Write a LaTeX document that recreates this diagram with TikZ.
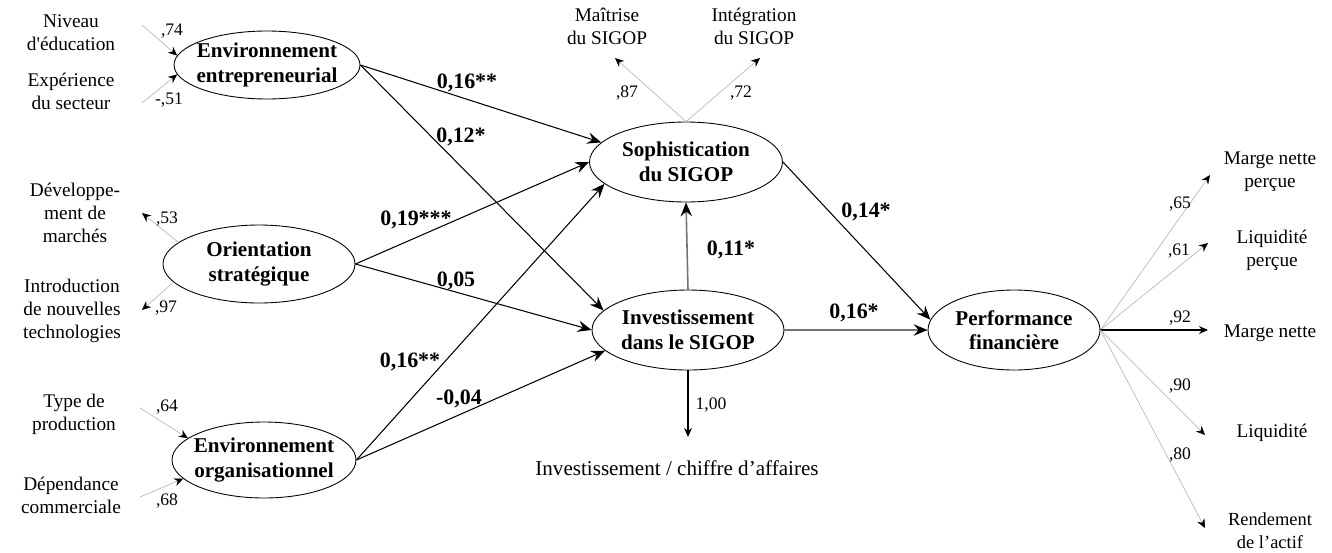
\documentclass[tikz,border=0pt]{standalone}
\usepackage{fontspec}
\setmainfont{Liberation Serif}
\usetikzlibrary{arrows.meta,shapes.geometric}

\begin{document}
\begin{tikzpicture}[
    x=0.02cm, y=-0.02cm,
    latent/.style={draw, ellipse, inner xsep=-5mm, inner ysep=-2mm, align=center, line width=0.5pt, font=\fontsize{12}{14}\selectfont\bfseries},
    indic/.style={align=center, inner sep=0pt, font=\fontsize{11}{13}\selectfont},
    coef/.style={inner sep=0pt, font=\fontsize{12.5}{14}\selectfont\bfseries},
    wt/.style={inner sep=0pt, font=\fontsize{10}{12}\selectfont},
    effect/.style={-{Stealth[length=2.8mm, width=2.3mm, inset=1mm, color=black]}, line width=0.6pt},
    loading/.style={-{Stealth[length=1.8mm, width=1.6mm, inset=0.6mm, color=black]}, draw=gray!55, line width=0.4pt},
    strong/.style={loading, draw=black, line width=0.6pt}
]
\useasboundingbox (0,0) rectangle (1332,552);

% latent constructs
\node[latent, minimum width=3.72cm, minimum height=1.36cm] (envE) at (267,65) {Environnement\\entrepreneurial};
\node[latent, minimum width=3.84cm, minimum height=1.56cm] (orient) at (259,264) {Orientation\\stratégique};
\node[latent, minimum width=3.68cm, minimum height=1.52cm] (envO) at (264,460) {Environnement\\organisationnel};
\node[latent, minimum width=3.86cm, minimum height=1.60cm] (soph) at (686,162) {Sophistication\\du SIGOP};
\node[latent, minimum width=3.84cm, minimum height=1.60cm] (invest) at (688,330) {Investissement\\dans le SIGOP};
\node[latent, minimum width=3.44cm, minimum height=1.60cm] (perf) at (1014,330) {Performance\\financière};

% indicators
\node[indic] (niv) at (71,33) {Niveau\\d\textquotesingle éducation};
\node[indic] (exp) at (71,91) {Expérience\\du secteur};
\node[indic] (dev) at (75,213) {Développe-\\ment de\\marchés};
\node[indic] (intro) at (72,311) {Introduction\\de nouvelles\\technologies};
\node[indic] (type) at (74,414) {Type de\\production};
\node[indic] (dep) at (71,495) {Dépendance\\commerciale};
\node[indic] (mait) at (607,26) {Maîtrise\\du SIGOP};
\node[indic] (integ) at (754,26) {Intégration\\du SIGOP};
\node[indic] (mnp) at (1270,172) {Marge nette\\perçue};
\node[indic] (liqp) at (1272,250) {Liquidité\\perçue};
\node[indic] (mn) at (1270,333) {Marge nette};
\node[indic] (liq) at (1272,433) {Liquidité};
\node[indic, font=\fontsize{10.5}{13}\selectfont] (rend) at (1270,531) {Rendement\\de l'actif};
\node[indic, font=\fontsize{12}{14}\selectfont] (ica) at (677,468) {Investissement / chiffre d'affaires};

% free ends of the loadings
\coordinate (niv-o) at (142,25);
\coordinate (exp-o) at (142,103);
\coordinate (dev-t) at (142,213);
\coordinate (intro-t) at (142,310);
\coordinate (type-o) at (140,408);
\coordinate (dep-o) at (140,497);
\coordinate (mait-t) at (615,58);
\coordinate (integ-t) at (760,58);
\coordinate (mnp-t) at (1210,175);
\coordinate (liqp-t) at (1208,243);
\coordinate (mn-t) at (1208,330);
\coordinate (liq-t) at (1205,435);
\coordinate (rend-t) at (1205,528);
\coordinate (ica-t) at (688,437);

% loadings
\draw[loading] (niv-o) -- (envE.174);
\draw[loading] (exp-o) -- (envE.186);
\draw[loading] (orient.165) -- (dev-t);
\draw[loading] (orient.192) -- (intro-t);
\draw[loading] (type-o) -- (envO.164);
\draw[loading] (dep-o) -- (envO.193);
\draw[loading] (soph.north) -- (mait-t);
\draw[loading] (soph.north) -- (integ-t);
\draw[loading] (perf.east) -- (mnp-t);
\draw[loading] (perf.east) -- (liqp-t);
\draw[strong] (perf.east) -- (mn-t);
\draw[loading] (perf.east) -- (liq-t);
\draw[loading] (perf.east) -- (rend-t);
\draw[strong] (invest.south) -- (ica-t);

\node[wt] (w-niv) at (172,31) {,74};
\node[wt] (w-exp) at (169,100) {-,51};
\node[wt] (w-dev) at (167,219) {,53};
\node[wt] (w-intro) at (166,308) {,97};
\node[wt] (w-type) at (167,407) {,64};
\node[wt] (w-dep) at (167,501) {,68};
\node[wt] (w-mait) at (627,93) {,87};
\node[wt] (w-integ) at (741,93) {,72};
\node[wt] (w-mnp) at (1180,204) {,65};
\node[wt] (w-liqp) at (1179,251) {,61};
\node[wt] (w-mn) at (1180,318) {,92};
\node[wt] (w-liq) at (1180,386) {,90};
\node[wt] (w-rend) at (1180,455) {,80};
\node[wt] (w-ica) at (711,405) {1,00};

% structural paths
\draw[effect] (envE.east) -- (soph.167);
\draw[effect] (envE.east) -- (invest.167);
\draw[effect] (orient.east) -- (soph.west);
\draw[effect] (orient.east) -- (invest.west);
\draw[effect] (envO.east) -- (soph.195);
\draw[effect] (envO.east) -- (invest.194);
\draw[effect, draw=black!55, line width=0.9pt] (invest.north) -- (soph.south);
\draw[effect] (soph.east) -- (perf.173);
\draw[effect, draw=black!55, line width=0.9pt] (invest.east) -- (perf.west);

\node[coef] (c1) at (467,83) {0,16**};
\node[coef] (c2) at (461,137) {0,12*};
\node[coef] (c3) at (416,220) {0,19***};
\node[coef] (c4) at (456,281) {0,05};
\node[coef] (c5) at (410,362) {0,16**};
\node[coef] (c6) at (459,399) {-0,04};
\node[coef] (c7) at (731,250) {0,11*};
\node[coef] (c8) at (866,212) {0,14*};
\node[coef] (c9) at (854,313) {0,16*};
\end{tikzpicture}
\end{document}
